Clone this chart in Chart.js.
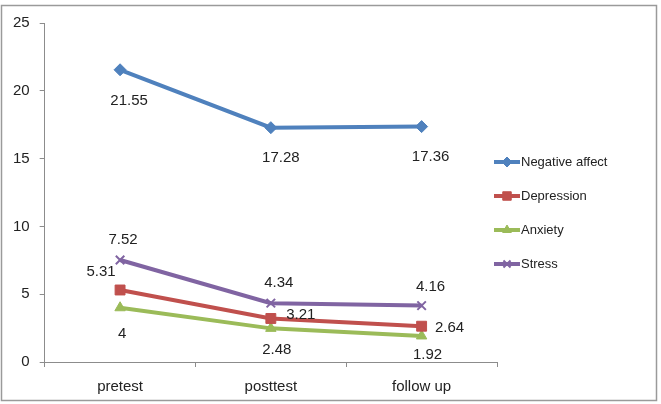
<!DOCTYPE html>
<html>
<head>
<meta charset="utf-8">
<script src="https://cdn.jsdelivr.net/npm/chart.js@4"></script>
<style>
  html, body { margin: 0; padding: 0; background: #fff; }
  #wrap { width: 661px; height: 404px; position: relative; }
</style>
</head>
<body>
<div id="wrap"><canvas id="chart" width="661" height="404"></canvas></div>
<script>
const categories = ["pretest", "posttest", "follow up"];
const seriesNames = ["Negative affect", "Depression", "Anxiety", "Stress"];
const negativeAffect = [21.55, 17.28, 17.36];
const depression = [5.31, 3.21, 2.64];
const anxiety = [4, 2.48, 1.92];
const stress = [7.52, 4.34, 4.16];
const yTicks = [0, 5, 10, 15, 20, 25];

const FONT = "'Liberation Sans', Arial, sans-serif";
const AXIS_GRAY = "#8c8c8c";

function series(i, values, color, pointStyle, radius, labelOffsets) {
  return {
    label: seriesNames[i],
    data: values,
    borderColor: color,
    backgroundColor: color,
    borderWidth: 4,
    tension: 0,
    pointStyle: pointStyle,
    pointRadius: radius,
    pointBorderWidth: pointStyle === "crossRot" ? 2 : 1,
    pointBackgroundColor: color,
    pointBorderColor: color,
    labelOffsets: labelOffsets
  };
}

// white page with grey frame like the exported excel chart
const framePlugin = {
  id: "frame",
  beforeDraw(chart) {
    const ctx = chart.ctx;
    ctx.save();
    ctx.fillStyle = "#fff";
    ctx.fillRect(0, 0, chart.width, chart.height);
    ctx.strokeStyle = "#9a9a9a";
    ctx.lineWidth = 1.5;
    ctx.strokeRect(1.5, 5.5, 655, 395);
    ctx.restore();
  }
};

// value labels next to each point
const valueLabels = {
  id: "valueLabels",
  afterDatasetsDraw(chart) {
    const ctx = chart.ctx;
    ctx.save();
    ctx.font = "15px " + FONT;
    ctx.fillStyle = "#222";
    ctx.textAlign = "center";
    ctx.textBaseline = "middle";
    chart.data.datasets.forEach((ds, i) => {
      const meta = chart.getDatasetMeta(i);
      meta.data.forEach((pt, j) => {
        const off = ds.labelOffsets[j];
        ctx.fillText(String(ds.data[j]), pt.x + off[0], pt.y + off[1]);
      });
    });
    ctx.restore();
  }
};

// excel-style legend: short line with the marker in the middle
const lineLegend = {
  id: "lineLegend",
  afterDraw(chart) {
    const ctx = chart.ctx;
    const x0 = chart.chartArea.right - 3;
    const gap = 34;
    const n = chart.data.datasets.length;
    const y0 = 213 - gap * (n - 1) / 2;
    ctx.save();
    chart.data.datasets.forEach((ds, i) => {
      const y = y0 + i * gap;
      ctx.strokeStyle = ds.borderColor;
      ctx.lineWidth = 4;
      ctx.beginPath();
      ctx.moveTo(x0, y);
      ctx.lineTo(x0 + 26, y);
      ctx.stroke();
      ctx.fillStyle = ds.pointBackgroundColor;
      ctx.strokeStyle = ds.pointBorderColor;
      ctx.lineWidth = ds.pointBorderWidth;
      Chart.helpers.drawPoint(ctx, {
        pointStyle: ds.pointStyle,
        radius: ds.pointRadius - 1,
        rotation: 0,
        borderWidth: ds.pointBorderWidth
      }, x0 + 13, y);
      ctx.fillStyle = "#222";
      ctx.font = "13px " + FONT;
      ctx.textAlign = "left";
      ctx.textBaseline = "middle";
      ctx.fillText(ds.label, x0 + 27, y);
    });
    ctx.restore();
  }
};

new Chart(document.getElementById("chart"), {
  type: "line",
  data: {
    labels: categories,
    datasets: [
      series(0, negativeAffect, "#4f81bd", "rectRot", 6, [[9, 31], [10, 30], [9, 30]]),
      series(1, depression, "#c0504d", "rect", 7, [[-19, -18], [30, -4], [28, 2]]),
      series(2, anxiety, "#9bbb59", "triangle", 6, [[2, 26], [6, 21], [6, 19]]),
      series(3, stress, "#8064a2", "crossRot", 6, [[3, -20], [8, -20], [9, -19]])
    ]
  },
  options: {
    responsive: false,
    animation: false,
    layout: { padding: { left: 3, right: 164, top: 23, bottom: -3 } },
    plugins: {
      legend: { display: false },
      tooltip: { enabled: false }
    },
    scales: {
      x: {
        offset: true,
        grid: {
          offset: true,
          drawOnChartArea: false,
          drawTicks: true,
          tickLength: 5,
          color: AXIS_GRAY
        },
        border: { display: true, color: AXIS_GRAY, width: 1 },
        ticks: { color: "#222", font: { family: FONT, size: 15 }, padding: 11 }
      },
      y: {
        min: 0,
        max: 25,
        afterBuildTicks(scale) {
          scale.ticks = yTicks.map(v => ({ value: v }));
        },
        grid: {
          drawOnChartArea: false,
          drawTicks: true,
          tickLength: 5,
          color: AXIS_GRAY
        },
        border: { display: true, color: AXIS_GRAY, width: 1 },
        ticks: { color: "#222", font: { family: FONT, size: 15 }, padding: 10 }
      }
    }
  },
  plugins: [framePlugin, valueLabels, lineLegend]
});
</script>
</body>
</html>
